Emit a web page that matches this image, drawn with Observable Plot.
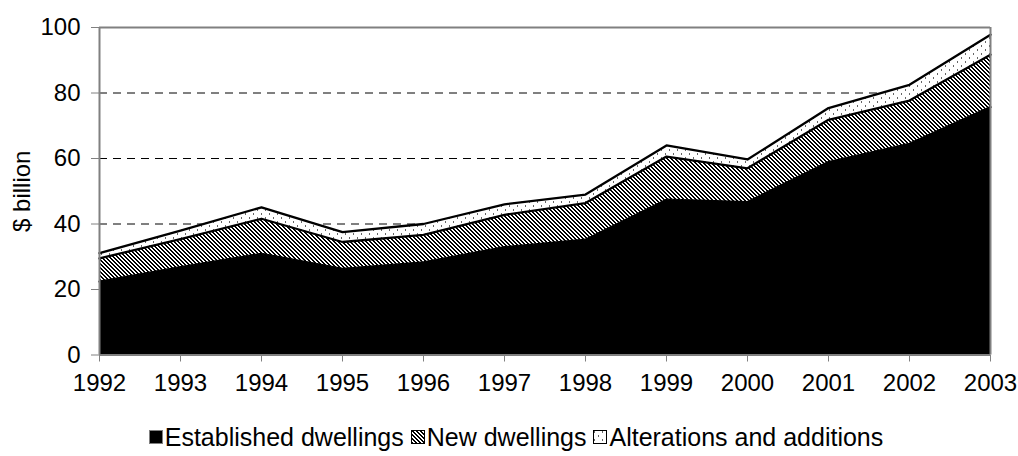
<!DOCTYPE html>
<html>
<head>
<meta charset="utf-8">
<script src="https://cdn.jsdelivr.net/npm/d3@7"></script>
<script src="https://cdn.jsdelivr.net/npm/@observablehq/plot@0.6"></script>
<style>
  html, body { margin: 0; padding: 0; background: #fff; }
  body { width: 1018px; height: 456px; overflow: hidden; font-family: "Liberation Sans", Arial, sans-serif; }
  #chart svg { display: block; }
  #chart g[aria-label*="axis"] line,
  #chart g[aria-label*="axis tick"] path { stroke: #808080; }
  #legend {
    display: flex; justify-content: center; align-items: center;
    margin-top: 24px; padding-left: 14px; height: 26px; font-size: 25px; line-height: 26px; color: #000;
    white-space: pre;
  }
  #legend .item { display: flex; align-items: center; }
  #legend svg { display: block; margin-right: 2px; }
</style>
</head>
<body>
<svg width="0" height="0" style="position:absolute">
  <defs>
    <pattern id="hatch" patternUnits="userSpaceOnUse" width="4" height="4" shape-rendering="crispEdges">
      <rect width="4" height="4" fill="#fff"/>
      <rect x="0" y="0" width="2" height="1" fill="#000"/>
      <rect x="1" y="1" width="2" height="1" fill="#000"/>
      <rect x="2" y="2" width="2" height="1" fill="#000"/>
      <rect x="3" y="3" width="1" height="1" fill="#000"/>
      <rect x="0" y="3" width="1" height="1" fill="#000"/>
    </pattern>
    <pattern id="dots" patternUnits="userSpaceOnUse" width="8" height="8" shape-rendering="crispEdges">
      <rect width="8" height="8" fill="#fff"/>
      <rect x="1" y="1" width="1" height="2" fill="#666"/>
      <rect x="5" y="5" width="1" height="2" fill="#666"/>
    </pattern>
  </defs>
</svg>
<div id="chart"></div>
<div id="legend"></div>
<script>
// Housing finance commitments by purpose, $ billion
const years = [1992, 1993, 1994, 1995, 1996, 1997, 1998, 1999, 2000, 2001, 2002, 2003];
const established = [22.4, 26.8, 30.9, 26.3, 28.3, 32.9, 35.2, 47.4, 46.7, 58.9, 64.5, 75.7];
const newDwellings = [7.1, 8.6, 10.7, 8.2, 8.4, 9.9, 11.2, 13.2, 10.3, 12.9, 13.2, 16.0];
const alterations = [1.6, 2.6, 3.5, 3.0, 3.3, 3.2, 2.6, 3.4, 2.7, 3.6, 4.8, 6.1];
const seriesNames = ["Established dwellings", "New dwellings", "Alterations and additions"];
const seriesFills = ["#000", "url(#hatch)", "url(#dots)"];
const yTicks = [0, 20, 40, 60, 80, 100];
const gridValues = [20, 40, 60, 80];

// Long-format table, series in stacking order (bottom first)
const seriesValues = [established, newDwellings, alterations];
const data = [];
seriesNames.forEach((name, s) => {
  years.forEach((year, i) => data.push({year, series: name, value: seriesValues[s][i]}));
});

const font = "'Liberation Sans', Arial, sans-serif";

const chart = Plot.plot({
  width: 1018,
  height: 400,
  marginLeft: 99,
  marginRight: 28,
  marginTop: 27,
  marginBottom: 45.5,
  style: {fontFamily: font, fontSize: "24px", color: "#000", background: "#fff", overflow: "visible"},
  x: {
    domain: [years[0], years[years.length - 1]],
    ticks: years,
    tickFormat: d => String(d),
    tickSize: 7,
    tickPadding: 12,
    label: null
  },
  y: {
    domain: [0, 100],
    ticks: yTicks,
    tickSize: 8,
    tickPadding: 11,
    label: null
  },
  color: {domain: seriesNames, range: seriesFills},
  marks: [
    Plot.ruleY(gridValues, {stroke: "#000", strokeWidth: 1, strokeDasharray: "8,6"}),
    Plot.areaY(data, Plot.stackY({x: "year", y: "value", z: "series", fill: "series"})),
    Plot.lineY(data, Plot.stackY2({x: "year", y: "value", z: "series", stroke: "#000", strokeWidth: 2.3})),
    Plot.ruleY([100], {stroke: "#808080", strokeWidth: 2}),
    Plot.ruleX([years[years.length - 1]], {stroke: "#808080", strokeWidth: 2}),
    Plot.ruleY([0], {stroke: "#808080", strokeWidth: 2}),
    Plot.ruleX([years[0]], {stroke: "#808080", strokeWidth: 2}),
    Plot.text(["$ billion"], {frameAnchor: "left", dx: -77, rotate: -90, textAnchor: "middle", fill: "#000", fontSize: 24})
  ]
});
document.getElementById("chart").appendChild(chart);

// Legend row with pattern swatches
const legend = d3.select("#legend");
seriesNames.forEach((name, i) => {
  const item = legend.append("div").attr("class", "item");
  const sw = item.append("svg").attr("width", 14).attr("height", 14);
  sw.append("rect").attr("x", 0.5).attr("y", 0.5).attr("width", 13).attr("height", 13)
    .attr("fill", seriesFills[i]).attr("stroke", i === 0 ? "#808080" : "#000").attr("stroke-width", 1);
  item.append("span").text(name + (i < seriesNames.length - 1 ? " " : ""));
});
</script>
</body>
</html>
